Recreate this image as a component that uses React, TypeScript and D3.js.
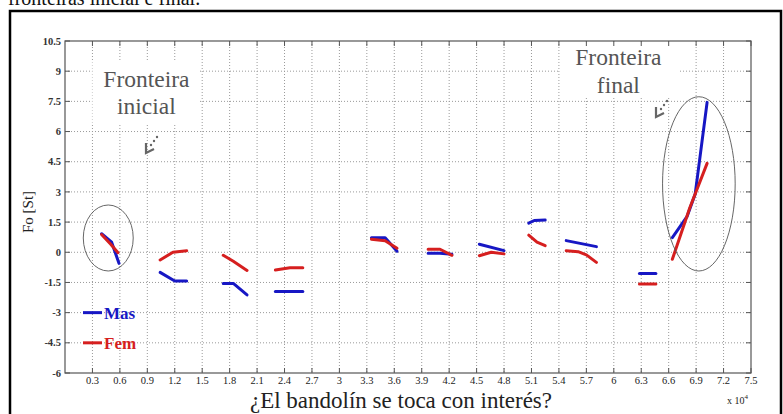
import React from "react";
import * as d3 from "d3";

// ---- data (x in units of 10^4) ----
const xTickLabels = ["0.3","0.6","0.9","1.2","1.5","1.8","2.1","2.4","2.7","3","3.3","3.6","3.9","4.2","4.5","4.8","5.1","5.4","5.7","6","6.3","6.6","6.9","7.2","7.5"];
const yTickLabels = ["-6","-4.5","-3","-1.5","0","1.5","3","4.5","6","7.5","9","10.5"];

const masSegments: [number, number][][] = [
  [[0.40, 0.92], [0.51, 0.5], [0.59, -0.55]],
  [[1.04, -1.0], [1.2, -1.43], [1.33, -1.43]],
  [[1.73, -1.55], [1.84, -1.55], [1.99, -2.12]],
  [[2.3, -1.95], [2.6, -1.95]],
  [[3.35, 0.72], [3.5, 0.72], [3.63, 0.05]],
  [[3.97, -0.05], [4.1, -0.05], [4.23, -0.1]],
  [[4.53, 0.4], [4.8, 0.08]],
  [[5.07, 1.45], [5.13, 1.58], [5.25, 1.6]],
  [[5.48, 0.58], [5.81, 0.28]],
  [[6.28, -1.05], [6.46, -1.05]],
  [[6.64, 0.73], [6.8, 1.77], [6.89, 2.9], [7.02, 7.45]],
];

const femSegments: [number, number][][] = [
  [[0.40, 0.88], [0.50, 0.4], [0.58, -0.02]],
  [[1.04, -0.38], [1.18, 0.0], [1.33, 0.08]],
  [[1.73, -0.15], [1.84, -0.45], [1.99, -0.9]],
  [[2.3, -0.88], [2.46, -0.77], [2.6, -0.77]],
  [[3.35, 0.65], [3.5, 0.57], [3.63, 0.2]],
  [[3.97, 0.15], [4.1, 0.15], [4.23, -0.15]],
  [[4.53, -0.17], [4.66, 0.0], [4.8, -0.08]],
  [[5.07, 0.85], [5.16, 0.5], [5.25, 0.33]],
  [[5.48, 0.08], [5.61, 0.03], [5.7, -0.13], [5.81, -0.5]],
  [[6.28, -1.58], [6.46, -1.58]],
  [[6.64, -0.35], [6.83, 2.2], [7.02, 4.42]],
];

const legendItems = [
  { label: "Mas", y: -3, color: "#1717c4" },
  { label: "Fem", y: -4.5, color: "#d61f1f" },
];

const BLUE = "#1717c4";
const RED = "#d61f1f";

export default function App() {
  const W = 783, H = 414;
  const x = d3.scaleLinear().domain([0, 7.5]).range([65, 751]);
  const y = d3.scaleLinear().domain([-6, 10.5]).range([373, 41]);
  const line = d3.line<[number, number]>().x(d => x(d[0])).y(d => y(d[1]));
  const xTicks = xTickLabels.map(Number);
  const yTicks = yTickLabels.map(Number);
  const gridColor = "#9a9a9a";
  const axisColor = "#555";
  const serif = '"Liberation Serif", "Times New Roman", Times, "DejaVu Serif", serif';

  const arrow = (tx: number, ty: number) => (
    <g transform={`translate(${tx},${ty})`} fill="#666" stroke="#666">
      <path d="M0,-10 L0,0 L8,-4" fill="none" strokeWidth={2.2} strokeLinejoin="miter" />
      <circle cx={5} cy={-8} r={1.2} stroke="none" />
      <circle cx={8} cy={-12} r={1.2} stroke="none" />
      <circle cx={11} cy={-16} r={1.2} stroke="none" />
    </g>
  );

  return (
    <svg width={W} height={H} style={{ position: "absolute", left: 0, top: 0, background: "#fff", fontFamily: serif }}>
      <rect x={0} y={0} width={W} height={H} fill="#fff" />
      {/* caption fragment at top */}
      <text x={8} y={5} fontSize={20} fill="#111" style={{ fontFamily: serif }}>fronteiras inicial e final.</text>
      {/* outer black frame */}
      <rect x={10} y={11} width={771} height={420} fill="none" stroke="#000" strokeWidth={2.5} />

      {/* grid */}
      <g stroke={gridColor} strokeWidth={1} strokeDasharray="1,2">
        {xTicks.slice(0, -1).map(v => (
          <line key={"gx" + v} x1={x(v)} x2={x(v)} y1={y(10.5)} y2={y(-6)} />
        ))}
        {yTicks.slice(1, -1).map(v => (
          <line key={"gy" + v} x1={x(0)} x2={x(7.5)} y1={y(v)} y2={y(v)} />
        ))}
      </g>

      {/* white label boxes */}
      <rect x={x(0.3)} y={y(9.5)} width={x(1.5) - x(0.3) - 3} height={y(6.4) - y(9.5)} fill="#fff" />
      <rect x={x(5.4) + 1} y={y(10.4)} width={x(6.7) - x(5.4)} height={y(7.7) - y(10.4)} fill="#fff" />

      {/* ticks (inside, all sides) */}
      <g stroke={axisColor} strokeWidth={1}>
        {xTicks.map(v => (
          <g key={"tx" + v}>
            <line x1={x(v)} x2={x(v)} y1={y(-6)} y2={y(-6) - 5} />
            <line x1={x(v)} x2={x(v)} y1={y(10.5)} y2={y(10.5) + 5} />
          </g>
        ))}
        {yTicks.map(v => (
          <g key={"ty" + v}>
            <line x1={x(0)} x2={x(0) + 5} y1={y(v)} y2={y(v)} />
            <line x1={x(7.5)} x2={x(7.5) - 5} y1={y(v)} y2={y(v)} />
          </g>
        ))}
      </g>
      <rect x={x(0)} y={y(10.5)} width={x(7.5) - x(0)} height={y(-6) - y(10.5)} fill="none" stroke={axisColor} strokeWidth={1.2} />

      {/* tick labels */}
      {yTicks.map((v, i) => (
        <text key={"ly" + v} x={x(0) - 4} y={y(v)} dy="0.35em" textAnchor="end" fontSize={10.5} fontWeight="bold" fill="#333" style={{ fontFamily: serif }}>{yTickLabels[i]}</text>
      ))}
      {xTicks.map((v, i) => (
        <text key={"lx" + v} x={x(v)} y={384} textAnchor="middle" fontSize={10.5} fill="#222" style={{ fontFamily: serif }}>{xTickLabels[i]}</text>
      ))}
      <text x={727} y={404} fontSize={10} fill="#222" style={{ fontFamily: serif }}>x 10<tspan dy={-5} fontSize={7}>4</tspan></text>

      {/* axis titles */}
      <text x={401} y={408} textAnchor="middle" fontSize={23} fill="#222" style={{ fontFamily: serif }}>¿El bandolín se toca con interés?</text>
      <text transform={`translate(33,212) rotate(-90)`} textAnchor="middle" fontSize={15} fill="#222" style={{ fontFamily: serif }}>Fo [St]</text>

      {/* data */}
      <g fill="none" strokeWidth={3} strokeLinecap="round" strokeLinejoin="round">
        {masSegments.map((s, i) => (
          <path key={"m" + i} d={line(s) || ""} stroke={BLUE} />
        ))}
        {femSegments.map((s, i) => (
          <path key={"f" + i} d={line(s) || ""} stroke={RED} />
        ))}
      </g>

      {/* ellipses */}
      <ellipse cx={x(0.473)} cy={y(0.71)} rx={x(0.273) - x(0)} ry={y(0) - y(1.64)} fill="none" stroke="#555" strokeWidth={0.9} />
      <ellipse cx={x(6.93)} cy={y(3.4)} rx={x(0.397) - x(0)} ry={y(0) - y(4.33)} fill="none" stroke="#555" strokeWidth={0.9} />

      {/* annotations */}
      <g fontSize={23.5} fill="#555" textAnchor="middle" style={{ fontFamily: serif }}>
        <text x={x(0.89)} y={87}>Fronteira</text>
        <text x={x(0.89)} y={114}>inicial</text>
        <text x={x(6.05)} y={65}>Fronteira</text>
        <text x={x(6.05)} y={92.5}>final</text>
      </g>
      {arrow(146, 153)}
      {arrow(656, 117)}

      {/* legend */}
      {legendItems.map(it => (
        <g key={it.label}>
          <line x1={83} x2={102} y1={y(it.y)} y2={y(it.y)} stroke={it.color} strokeWidth={3} />
          <text x={104} y={y(it.y)} dy="0.35em" fontSize={17} fontWeight="bold" fill={it.color} style={{ fontFamily: serif }}>{it.label}</text>
        </g>
      ))}
    </svg>
  );
}
